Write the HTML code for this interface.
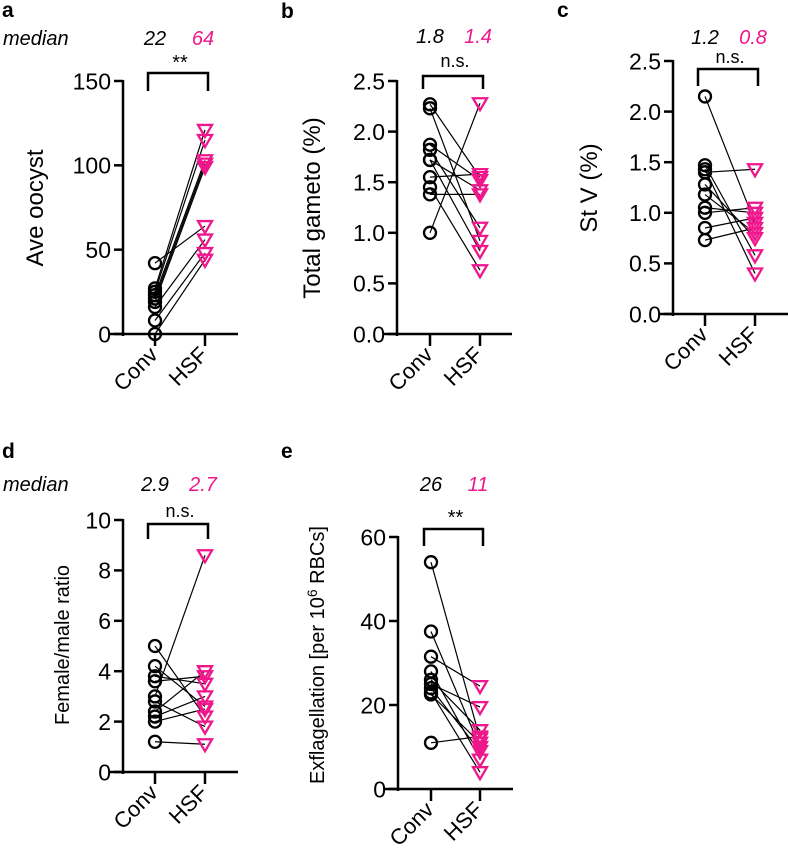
<!DOCTYPE html>
<html><head><meta charset="utf-8"><style>
html,body{margin:0;padding:0;background:#fff}
svg{display:block;font-family:"Liberation Sans",Arial,sans-serif}
</style></head><body>
<svg id="fig" width="788" height="859" viewBox="0 0 788 859" xmlns="http://www.w3.org/2000/svg"></svg>
<script>
// Panel a: Ave oocyst
const aConv = [42, 27, 25, 23, 21, 19, 16, 8, 0];
const aHSF  = [64, 121, 115, 103, 101, 99, 56, 48, 44];
const aTicks = [0, 50, 100, 150];
const aTickLabels = ["0", "50", "100", "150"];
// Panel b: Total gameto (%)
const bConv = [1.0, 2.27, 2.23, 1.87, 1.82, 1.72, 1.72, 1.38, 1.45, 1.55];
const bHSF  = [2.28, 1.55, 0.92, 1.52, 1.05, 0.82, 1.42, 1.38, 0.63, 1.58];
const bTicks = [0, 0.5, 1.0, 1.5, 2.0, 2.5];
const bTickLabels = ["0.0", "0.5", "1.0", "1.5", "2.0", "2.5"];
// Panel c: St V (%)
const cConv = [2.15, 1.40, 1.47, 1.43, 1.28, 1.18, 1.05, 1.0, 0.85, 0.73];
const cHSF  = [0.90, 1.43, 0.58, 0.40, 0.75, 0.80, 1.00, 1.05, 0.95, 0.85];
const cTicks = [0, 0.5, 1.0, 1.5, 2.0, 2.5];
const cTickLabels = ["0.0", "0.5", "1.0", "1.5", "2.0", "2.5"];
// Panel d: Female/male ratio
const dConv = [3.0, 5.0, 4.2, 3.8, 3.6, 2.8, 2.4, 2.2, 2.0, 1.2];
const dHSF  = [8.6, 2.2, 2.6, 3.5, 3.8, 1.8, 4.0, 3.0, 2.5, 1.1];
const dTicks = [0, 2, 4, 6, 8, 10];
const dTickLabels = ["0", "2", "4", "6", "8", "10"];
// Panel e: Exflagellation
const eConv = [54, 37.5, 31.5, 28, 26, 25, 24, 23, 22.5, 11];
const eHSF  = [12, 10, 24.5, 7, 14, 19.5, 9, 4, 11, 12.5];
const eTicks = [0, 20, 40, 60];
const eTickLabels = ["0", "20", "40", "60"];

const NS = "http://www.w3.org/2000/svg";
const svg = document.getElementById("fig");
const PINK = "#f0168c";
function mk(tag, attrs, parent, text) {
  const e = document.createElementNS(NS, tag);
  for (const k in attrs) e.setAttribute(k, attrs[k]);
  if (text !== undefined) e.textContent = text;
  (parent || svg).appendChild(e);
  return e;
}

function panel(p) {
  const g = mk("g", {});
  
  
  const ymax = p.ticks[p.ticks.length - 1];
  const y = v => p.y0 - (v / ymax) * (p.y0 - p.y1);
  const ax = mk("line", {x1: p.ax, x2: p.ax, y1: p.y1 - 1, y2: p.y0 + 2, stroke: "#000", "stroke-width": 2.5}, g);
  
  
  const xa = mk("line", {x1: p.ax - 13, x2: p.xend, y1: p.y0, y2: p.y0, stroke: "#000", "stroke-width": 2.5}, g);
  
  
  p.ticks.forEach((t, i) => {
    const tk = mk("line", {x1: p.ax - 9, x2: p.ax, y1: y(t), y2: y(t), stroke: "#000", "stroke-width": 2.5}, g);
    
    
    const tl = mk("text", {x: p.ax - 12, y: y(t) + p.tfs * 0.36, "text-anchor": "end", "font-size": p.tfs, fill: "#000"}, g, p.tickLabels[i]);
    
    
  });
  [[p.cx, "Conv"], [p.hx, "HSF"]].forEach(([x, lab]) => {
    const tk = mk("line", {x1: x, x2: x, y1: p.y0, y2: p.y0 + 12, stroke: "#000", "stroke-width": 2.5}, g);
    
    
    const tl = mk("text", {x: x + 4, y: p.y0 + 22, "text-anchor": "end", "font-size": p.xfs, transform: `rotate(-45 ${x + 4} ${p.y0 + 22})`}, g, lab);
    
    
  });
  const yt = mk("text", {x: p.tx, y: p.ty, "text-anchor": "middle", "font-size": p.yfs, transform: `rotate(-90 ${p.tx} ${p.ty})`}, g);
  
  
  if (p.sup) {
    yt.appendChild(document.createTextNode("Exflagellation [per 10"));
    mk("tspan", {"font-size": p.yfs * 0.7, dy: -7}, yt, "6");
    mk("tspan", {dy: 7}, yt, " RBCs]");
  } else yt.textContent = p.title;
  p.conv.forEach((v, i) => {
    const l = mk("line", {x1: p.cx, y1: y(v), x2: p.hx, y2: y(p.hsf[i]), stroke: "#000", "stroke-width": 1.2}, g);
    
    
  });
  p.conv.forEach(v => {
    const c = mk("circle", {cx: p.cx, cy: y(v), r: 6, fill: "none", stroke: "#000", "stroke-width": 2.3}, g);
    
    
  });
  p.hsf.forEach(v => {
    const yy = y(v);
    const t = mk("polygon", {points: `${p.hx - 7},${yy - 5} ${p.hx + 7},${yy - 5} ${p.hx},${yy + 7}`, fill: "none", stroke: PINK, "stroke-width": 2.3}, g);
    
    
  });
  const br = mk("path", {d: `M${p.cx - 7},${p.bb} V${p.bt} H${p.hx + 3} V${p.bb}`, fill: "none", stroke: "#000", "stroke-width": 2.5}, g);
  
  
  const sig = mk("text", {x: (p.cx + p.hx) / 2, y: p.sy, "text-anchor": "middle", "font-size": p.sig === "**" ? 20 : 18}, g, p.sig);
  
  
  const m1 = mk("text", {x: p.cx, y: p.my, "text-anchor": "middle", "font-size": 20, "font-style": "italic"}, g, p.m1);
  
  
  const m2 = mk("text", {x: p.hx - 2, y: p.my, "text-anchor": "middle", "font-size": 20, "font-style": "italic", fill: PINK}, g, p.m2);
  
  
  if (p.medWord) {
    const mw = mk("text", {x: 3, y: p.my, "font-size": 20, "font-style": "italic"}, g, "median");
    
    
  }
  const pl = mk("text", {x: p.lx, y: p.ly, "font-size": 21, "font-weight": "bold"}, g, p.id);
  
  
}

panel({id: "a", conv: aConv, hsf: aHSF, ticks: aTicks, tickLabels: aTickLabels, ax: 123, y0: 334, y1: 81, xend: 238, cx: 155, hx: 205,
  tfs: 23, xfs: 22, yfs: 24, title: "Ave oocyst", tx: 43, ty: 208, bt: 73, bb: 91, sig: "**", sy: 69, my: 45, m1: "22", m2: "64", medWord: true, lx: 2, ly: 17});
panel({id: "b", conv: bConv, hsf: bHSF, ticks: bTicks, tickLabels: bTickLabels, ax: 397, y0: 334, y1: 81, xend: 512, cx: 430, hx: 480,
  tfs: 23, xfs: 22, yfs: 24, title: "Total gameto (%)", tx: 320, ty: 208, bt: 76, bb: 89, sig: "n.s.", sy: 67, my: 43, m1: "1.8", m2: "1.4", lx: 281, ly: 18});
panel({id: "c", conv: cConv, hsf: cHSF, ticks: cTicks, tickLabels: cTickLabels, ax: 673, y0: 314, y1: 61, xend: 788, cx: 705, hx: 755,
  tfs: 23, xfs: 22, yfs: 24, title: "St V (%)", tx: 597, ty: 188, bt: 69, bb: 86, sig: "n.s.", sy: 63, my: 44, m1: "1.2", m2: "0.8", lx: 557, ly: 17});
panel({id: "d", conv: dConv, hsf: dHSF, ticks: dTicks, tickLabels: dTickLabels, ax: 123, y0: 772, y1: 520, xend: 238, cx: 155, hx: 205,
  tfs: 23, xfs: 22, yfs: 20, title: "Female/male ratio", tx: 69, ty: 645, bt: 524, bb: 539, sig: "n.s.", sy: 517, my: 491, m1: "2.9", m2: "2.7", medWord: true, lx: 2, ly: 458});
panel({id: "e", conv: eConv, hsf: eHSF, ticks: eTicks, tickLabels: eTickLabels, ax: 398, y0: 789, y1: 537, xend: 513, cx: 431, hx: 480,
  tfs: 23, xfs: 22, yfs: 20, sup: true, tx: 324, ty: 655, bt: 529, bb: 546, sig: "**", sy: 524, my: 491, m1: "26", m2: "11", lx: 281, ly: 458});
</script>
</body></html>
